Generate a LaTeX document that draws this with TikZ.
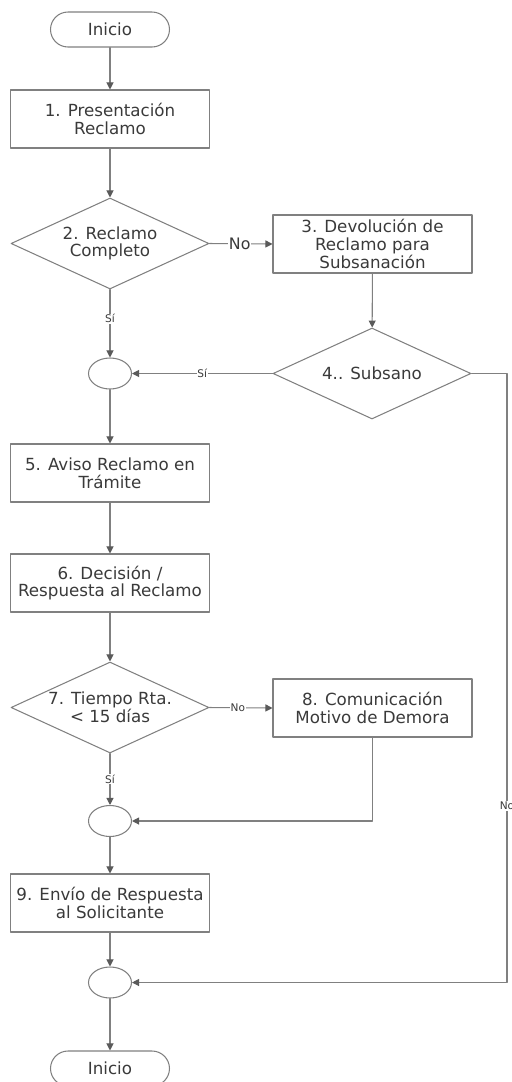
\documentclass[tikz,border=0pt]{standalone}
\usepackage{fontspec}
\setmainfont{DejaVu Sans}
\usetikzlibrary{arrows.meta,shapes.geometric}
\definecolor{linegray}{HTML}{808080}
\definecolor{tipgray}{HTML}{5A5A5A}
\definecolor{textgray}{HTML}{3A3A3A}
\tikzset{
  base/.style={draw=linegray,line width=0.6pt,text=textgray,align=center,inner sep=0pt,
    font=\fontsize{9.5}{10.1}\selectfont},
  proceso/.style={base,rectangle,minimum width=3.98cm,minimum height=1.16cm},
  decision/.style={base,diamond,shape aspect=2.2,minimum width=3.96cm,minimum height=1.82cm},
  terminal/.style={base,rectangle,rounded corners=0.35cm,minimum width=2.38cm,minimum height=0.7cm},
  union/.style={base,ellipse,minimum width=0.86cm,minimum height=0.62cm},
  flecha/.style={draw=linegray,line width=0.6pt,-{Triangle[length=4pt,width=4pt,color=tipgray]}},
  rotulo/.style={fill=white,text=textgray,inner sep=0.5pt,font=\fontsize{6}{7}\selectfont},
}
\begin{document}
\begin{tikzpicture}[line cap=round,line join=round,x=0.02cm,y=-0.02cm]
\useasboundingbox (0,0) rectangle (511,1082);
% nodos
\node[terminal] (ini) at (110,29.5) {Inicio};
\node[proceso] (p1) at (110,119) {1. Presentación\\Reclamo};
\node[decision] (d2) at (110,243.5) {2. Reclamo\\Completo};
\node[proceso] (p3) at (372.5,244) {3. Devolución de\\Reclamo para\\Subsanación};
\node[union] (u1) at (110,373.5) {};
\node[decision] (d4) at (372,373.5) {4.. Subsano};
\node[proceso] (p5) at (110,473) {5. Aviso Reclamo en\\Trámite};
\node[proceso] (p6) at (110,583) {6. Decisión /\\Respuesta al Reclamo};
\node[decision] (d7) at (110,707.5) {7. Tiempo Rta.\\< 15 días};
\node[proceso] (p8) at (372.5,708) {8. Comunicación\\Motivo de Demora};
\node[union] (u2) at (110,821) {};
\node[proceso] (p9) at (110,903) {9. Envío de Respuesta\\al Solicitante};
\node[union] (u3) at (110,982.5) {};
\node[terminal] (fin) at (110,1068.5) {Inicio};
\coordinate (c4) at (507,373.5);
\coordinate (c3) at (507,982.5);
\coordinate (c8) at (372.5,821);
% conectores
\draw[flecha] (ini) -- (p1);
\draw[flecha] (p1) -- (d2);
\draw[flecha] (d2.east) -- node[rotulo,pos=0.48,font=\fontsize{9}{10}\selectfont] {No} (p3.west);
\draw[flecha] (d2.south) -- node[rotulo,pos=0.43] {Sí} (u1.north);
\draw[flecha] (p3) -- (d4);
\draw[flecha] (d4.west) -- node[rotulo,pos=0.5] {Sí} (u1.east);
\draw[flecha] (d4.east) -- (c4) -- node[rotulo,pos=0.71] {No} (c3) -- (u3.east);
\draw[flecha] (u1) -- (p5);
\draw[flecha] (p5) -- (p6);
\draw[flecha] (p6) -- (d7);
\draw[flecha] (d7.east) -- node[rotulo,pos=0.45] {No} (p8.west);
\draw[flecha] (d7.south) -- node[rotulo,pos=0.5] {Sí} (u2.north);
\draw[flecha] (p8.south) -- (c8) -- (u2.east);
\draw[flecha] (u2) -- (p9);
\draw[flecha] (p9) -- (u3);
\draw[flecha] (u3) -- (fin);
\end{tikzpicture}
\end{document}
